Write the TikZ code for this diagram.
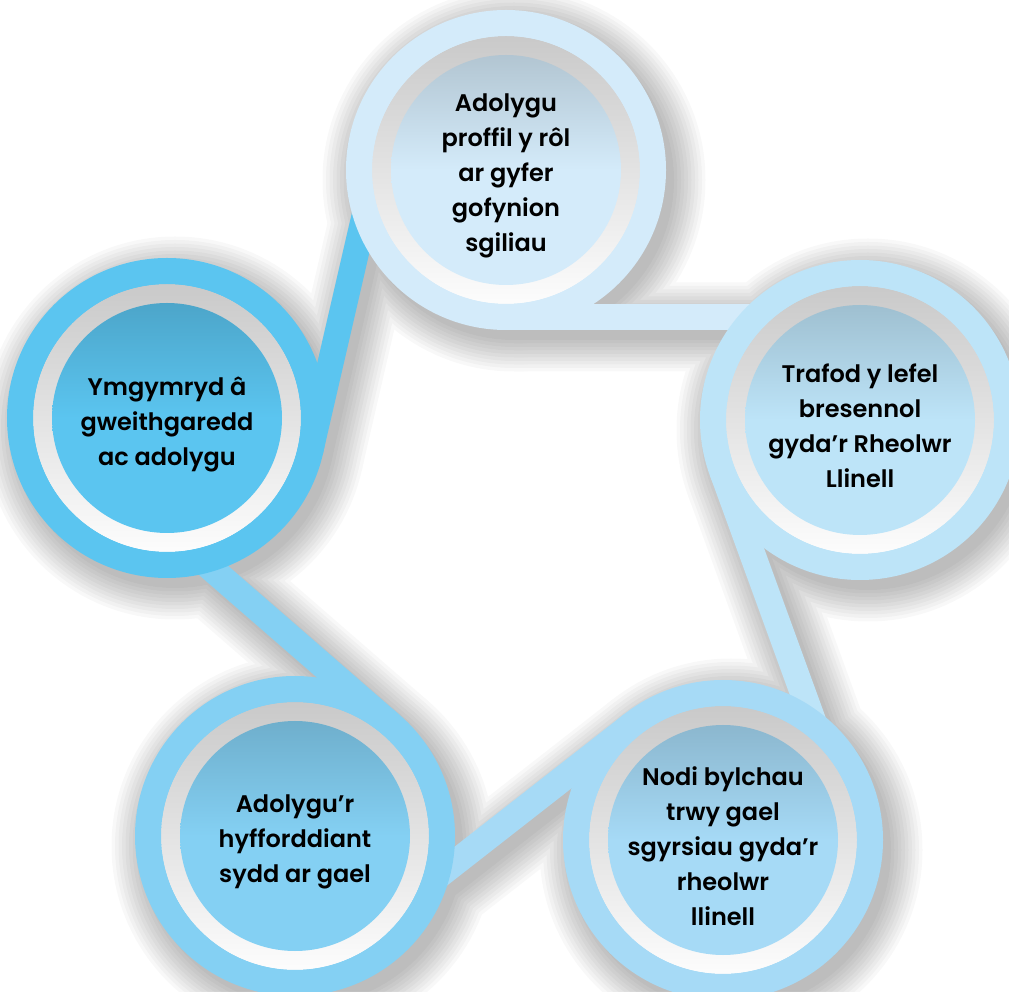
\documentclass[tikz,border=0pt]{standalone}
\usepackage{fontspec}
\newfontfamily\lblfont{Poppins SemiBold}
\usetikzlibrary{calc, backgrounds}

\definecolor{ctop}{HTML}{D4EBFA}
\definecolor{cright}{HTML}{BDE4F8}
\definecolor{cbr}{HTML}{A6DAF6}
\definecolor{cbl}{HTML}{84D0F3}
\definecolor{cleft}{HTML}{5BC5F0}

\pgfdeclarelayer{paper}
\pgfdeclarelayer{shadow}
\pgfsetlayers{paper,shadow,background,main}

\begin{document}
\begin{tikzpicture}[
    x=1pt, y=1pt,
    stage/.style={
        circle, minimum size=294pt, inner sep=0pt, outer sep=0pt,
        line width=26pt, draw=#1, fill=#1,
        path picture={
            \shade[top color=black!22, bottom color=white]
                (path picture bounding box.center) circle (134pt);
            \shade[top color=#1!84!black, bottom color=#1, middle color=#1]
                (path picture bounding box.center) circle (115pt);
        }
    },
    band/.style={line width=26pt, draw=#1},
    lbl/.style={
        align=center, text=black, yshift=-6pt,
        font=\lblfont\fontsize{24}{35}\selectfont
    }
]

\useasboundingbox (0,0) rectangle (1009,991);
\begin{pgfonlayer}{paper}
    \fill[white] (0,0) rectangle (1009,991);
\end{pgfonlayer}

% ===== stages (clockwise from the top) =====
\node[stage=ctop]   (review)   at (506,821) {};
\node[stage=cright] (discuss)  at (860,571) {};
\node[stage=cbr]    (gaps)     at (723,151) {};
\node[stage=cbl]    (training) at (295,155) {};
\node[stage=cleft]  (activity) at (167,573) {};

\node[lbl] (review-txt)   at (review)   {Adolygu\\proffil y rôl\\ar gyfer\\gofynion\\sgiliau};
\node[lbl] (discuss-txt)  at (discuss)  {Trafod y lefel\\bresennol\\gyda’r Rheolwr\\Llinell};
\node[lbl] (gaps-txt)     at (gaps)     {Nodi bylchau\\trwy gael\\sgyrsiau gyda’r\\rheolwr\\llinell};
\node[lbl] (training-txt) at (training) {Adolygu’r\\hyfforddiant\\sydd ar gael};
\node[lbl] (activity-txt) at (activity) {Ymgymryd â\\gweithgaredd\\ac adolygu};

% ===== tangent bands between stages =====
\foreach \src/\dst/\ang/\col in {review/discuss/-90/ctop,
    discuss/gaps/200/cright, gaps/training/128/cbr,
    training/activity/49/cbl, activity/review/-13/cleft}{
    \coordinate (\src-t) at (\src.\ang); % tangent point on the ring
    \coordinate (\src-d) at ($(\src-t)+(\ang+90:10)$);
    \coordinate (\src-e) at ($(\src-t)!(\dst.center)!(\src-d)$);
    \begin{pgfonlayer}{background}
        \draw[band=\col] (\src-t) -- (\src-e);
    \end{pgfonlayer}
}

% ===== soft drop shadow =====
\begin{pgfonlayer}{shadow}
\begin{scope}[transform canvas={shift={(8pt,-10pt)}}]
    \foreach \k in {0,...,9} {
        \begin{scope}[transparency group, opacity=0.028]
            \foreach \n in {review, discuss, gaps, training, activity} {
                \fill (\n.center) circle (160pt+\k*3.5pt);
                \draw[line width=26pt+\k*7pt] (\n-t) -- (\n-e);
            }
        \end{scope}
    }
\end{scope}
\end{pgfonlayer}

\end{tikzpicture}
\end{document}
